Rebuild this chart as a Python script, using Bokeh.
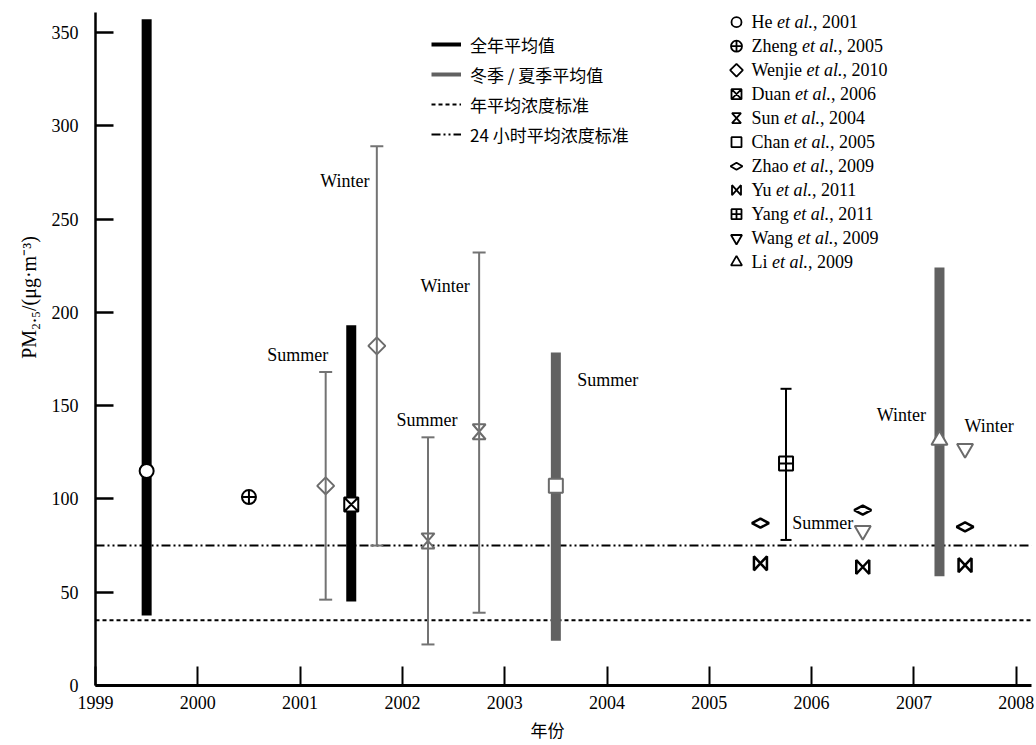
import glob
from bokeh.plotting import figure
from bokeh.models import (Range1d, Label, Legend, LegendItem, ColumnDataSource,
                          Whisker, TeeHead, FixedTicker)
from bokeh.embed import file_html
from bokeh.resources import INLINE

# ---------------- data ----------------
year_ticks = [1999, 2000, 2001, 2002, 2003, 2004, 2005, 2006, 2007, 2008]
pm_ticks = [0, 50, 100, 150, 200, 250, 300, 350]

annual_std = 35      # 年平均浓度标准
daily_std = 75       # 24 小时平均浓度标准

# 全年平均值 ranges (black thick bars)
annual_x = [1999.5, 2001.5]
annual_low = [37.5, 45]
annual_high = [357, 193]

# 冬季 / 夏季平均值 ranges (gray thick bars)
season_x = [2003.5, 2007.25]
season_low = [24, 58.5]
season_high = [178.5, 224]

# seasonal error bars (gray)
err_x = [2001.25, 2001.75, 2002.25, 2002.75]
err_low = [46, 75, 22, 39]
err_high = [168, 289, 133, 232]

# annual error bar (black, Yang et al.)
yang_err_x = [2005.75]
yang_err_low = [78]
yang_err_high = [159]

# study means
he_x, he_y = [1999.5], [115]
zheng_x, zheng_y = [2000.5], [101]
wenjie_x, wenjie_y = [2001.25, 2001.75], [107, 182]
duan_x, duan_y = [2001.5], [97]
sun_x, sun_y = [2002.25, 2002.75], [77.5, 136]
chan_x, chan_y = [2003.5], [107]
zhao_x, zhao_y = [2005.5, 2006.5, 2007.5], [87, 94, 85]
yu_x, yu_y = [2005.5, 2006.5, 2007.5], [65.5, 63.5, 64.5]
yang_x, yang_y = [2005.75], [119]
wang_x, wang_y = [2006.5, 2007.5], [83, 127]
li_x, li_y = [2007.25], [131.5]

# season annotations: text, anchor point (taken from the data above)
season_text = ["Summer", "Winter", "Summer", "Winter", "Summer", "Summer", "Winter", "Winter"]
season_anchor_x = [err_x[0], err_x[1], err_x[2], err_x[3], season_x[0], wang_x[0], li_x[0], wang_x[1]]
season_anchor_y = [err_high[0], err_high[1], err_high[2], err_high[3], season_high[0], wang_y[0], li_y[0], wang_y[1]]
# pixel offsets of the annotation text from its anchor (layout only)
season_dx = [-28, -32, -1, -34, 52, -40, -38, 24]
season_dy = [17, -35, 17, -33, -28, 8, 25, 23]

ref_names = ["He", "Zheng", "Wenjie", "Duan", "Sun", "Chan", "Zhao", "Yu", "Yang", "Wang", "Li"]
ref_years = ["2001", "2005", "2010", "2006", "2004", "2005", "2009", "2011", "2011", "2009", "2009"]

legend_labels = ["全年平均值", "冬季 / 夏季平均值", "年平均浓度标准", "24 小时平均浓度标准"]
x_title = "年份"
y_title = "PM₂.₅/(μg·m⁻³)"

# ---------------- layout / style ----------------
W, H = 1034, 743
PX_X, PX_Y = 102.3, 1.866          # pixels per year / per µg·m⁻³
AX_LEFT, AX_BOTTOM = 95, 58        # where the axes cross (pixels from left / bottom)
X_AXIS_END, Y_AXIS_END = 2008.15, 360.7
X_START = 1999 - AX_LEFT / PX_X
Y_START = 0 - AX_BOTTOM / PX_Y
X_END = X_START + W / PX_X
Y_END = Y_START + H / PX_Y

SERIF = "Liberation Serif"
CJK = "Noto Sans CJK SC"
GRAY_BAR = "#616161"
GRAY_ERR = "#737373"
GRAY_MK = "#6b6b6b"

p = figure(width=W, height=H, x_range=Range1d(X_START, X_END), y_range=Range1d(Y_START, Y_END),
           output_backend="svg", toolbar_location=None, min_border=0)
p.grid.visible = False
p.outline_line_color = None
p.background_fill_color = "white"

# axes crossing at (1999, 0)
p.xaxis.fixed_location = 0
p.yaxis.fixed_location = 1999
p.xaxis.bounds = (1999, X_AXIS_END)
p.yaxis.bounds = (0, Y_AXIS_END)
p.xaxis.ticker = FixedTicker(ticks=year_ticks)
p.yaxis.ticker = FixedTicker(ticks=pm_ticks)
for ax in (p.xaxis[0], p.yaxis[0]):
    ax.axis_line_color = "black"
    ax.major_tick_line_color = "black"
    ax.minor_tick_line_color = None
    ax.major_tick_out = 0
    ax.major_label_text_font = SERIF
    ax.major_label_text_font_size = "18px"
    ax.major_label_text_color = "black"
p.xaxis.major_tick_in = 19
p.yaxis.major_tick_in = 18
p.xaxis.axis_line_width = 3
p.yaxis.axis_line_width = 2.5
p.xaxis.major_tick_line_width = 2
p.yaxis.major_tick_line_width = 2.5
p.xaxis.major_label_standoff = 10
p.yaxis.major_label_standoff = 17

# axis titles
p.add_layout(Label(x=547, y=H - 729, x_units="screen", y_units="screen", text=x_title,
                   text_align="center", text_baseline="middle", text_font=CJK,
                   text_font_size="17px", text_color="black"))
p.add_layout(Label(x=28, y=H - 297, x_units="screen", y_units="screen", text=y_title,
                   angle=1.5707963, text_align="center", text_baseline="middle",
                   text_font=SERIF, text_font_size="20px", text_color="black"))

# standard lines (drawn from the y axis to the end of the x axis)
p.line(x=[1999, X_AXIS_END], y=[annual_std, annual_std], line_color="black", line_width=2,
       line_dash="4 3")
p.line(x=[1999, X_AXIS_END], y=[daily_std, daily_std], line_color="black", line_width=2,
       line_dash="9 3 2 3 2 3")

# error bars
def whisker(xs, lo, hi, color, cap):
    src = ColumnDataSource(dict(base=xs, lower=lo, upper=hi))
    return Whisker(source=src, base="base", lower="lower", upper="upper",
                   line_color=color, line_width=2, level="glyph",
                   upper_head=TeeHead(size=cap, line_color=color, line_width=2),
                   lower_head=TeeHead(size=cap, line_color=color, line_width=2))

p.add_layout(whisker(err_x, err_low, err_high, GRAY_ERR, 13))
p.add_layout(whisker(yang_err_x, yang_err_low, yang_err_high, "black", 11))

# thick range bars
p.segment(x0=annual_x, y0=annual_low, x1=annual_x, y1=annual_high,
          line_color="black", line_width=10, line_cap="butt")
p.segment(x0=season_x, y0=season_low, x1=season_x, y1=season_high,
          line_color=GRAY_BAR, line_width=10, line_cap="butt")

# custom marker shapes (pixel half-sizes turned into data offsets)
def shape(xs, ys, verts, sx, sy):
    return ([[x + vx / sx for vx, vy in verts] for x in xs],
            [[y + vy / sy for vx, vy in verts] for y in ys])

def hourglass(w, h):
    return [(-w, h), (w, h), (-w, -h), (w, -h)]

def bowtie(w, h):
    return [(-w, h), (-w, -h), (w, h), (w, -h)]

def flat_diamond(w, h):
    return [(-w, 0), (0, h), (w, 0), (0, -h)]

# data markers
mk = dict(fill_color="white", line_width=2)
p.scatter(he_x, he_y, marker="circle", size=14, line_color="black", **mk)
p.scatter(zheng_x, zheng_y, marker="circle_cross", size=14, line_color="black", **mk)
p.scatter(wenjie_x, wenjie_y, marker="square", angle=0.785398, size=12, line_color=GRAY_MK, **mk)
p.scatter(duan_x, duan_y, marker="square_x", size=14, line_color="black", **mk)
sx_, sy_ = shape(sun_x, sun_y, hourglass(6.5, 7.5), PX_X, PX_Y)
p.patches(sx_, sy_, line_color=GRAY_MK, **mk)
p.scatter(chan_x, chan_y, marker="square", size=14, line_color=GRAY_MK, **mk)
zx_, zy_ = shape(zhao_x, zhao_y, flat_diamond(8.5, 4.5), PX_X, PX_Y)
p.patches(zx_, zy_, line_color="black", fill_color="white", line_width=2.5)
yx_, yy_ = shape(yu_x, yu_y, bowtie(6.5, 7), PX_X, PX_Y)
p.patches(yx_, yy_, line_color="black", fill_color="white", line_width=2.5)
p.scatter(yang_x, yang_y, marker="square_cross", size=14, line_color="black", **mk)
p.scatter(wang_x, wang_y, marker="inverted_triangle", size=16, line_color=GRAY_MK, **mk)
p.scatter(li_x, li_y, marker="triangle", size=16, line_color=GRAY_MK, **mk)

# season annotations
for t, ax_, ay_, dx, dy in zip(season_text, season_anchor_x, season_anchor_y, season_dx, season_dy):
    p.add_layout(Label(x=ax_, y=ay_, x_offset=dx, y_offset=dy, text=t, text_align="center",
                       text_baseline="middle", text_font=SERIF, text_font_size="18px",
                       text_color="black"))

# ---------------- line legend ----------------
nan = float("nan")
r1 = p.line([nan, nan], [nan, nan], line_color="black", line_width=4)
r2 = p.line([nan, nan], [nan, nan], line_color=GRAY_BAR, line_width=4)
r3 = p.line([nan, nan], [nan, nan], line_color="black", line_width=2, line_dash="4 3")
r4 = p.line([nan, nan], [nan, nan], line_color="black", line_width=2, line_dash="9 3 2 3 2 3")
ROW_H, ROW_GAP = 25, 5
LEG_H = 4 * ROW_H + 3 * ROW_GAP
legend = Legend(items=[LegendItem(label=l, renderers=[r]) for l, r in zip(legend_labels, [r1, r2, r3, r4])],
                location=(431, H - 31.5 - LEG_H), glyph_width=30, glyph_height=20, spacing=ROW_GAP,
                padding=0, margin=0, label_standoff=9, border_line_color=None,
                background_fill_alpha=0, label_text_font=CJK, label_text_font_size="17px",
                label_text_color="black", label_height=20)
p.add_layout(legend)

# ---------------- marker legend (pixel coordinates of the canvas) ----------------
p.extra_x_ranges = {"px": Range1d(0, W)}
p.extra_y_ranges = {"px": Range1d(0, H)}

def _font_file(style):
    name = {"normal": "LiberationSerif-Regular.ttf", "italic": "LiberationSerif-Italic.ttf"}[style]
    for root in ("/usr/share/fonts", "/usr/local/share/fonts", "/usr/lib"):
        hits = glob.glob(f"{root}/**/{name}", recursive=True)
        if hits:
            return hits[0]
    return None

_TIMES = {" ": 250, ",": 250, ".": 250, "H": 722, "Z": 611, "W": 944, "D": 722, "S": 556,
          "C": 667, "Y": 722, "L": 611, "e": 444, "h": 500, "n": 500, "g": 500, "j": 278,
          "i": 278, "u": 500, "a": 444, "o": 500, "t": 278, "l": 278, "m": 778, "r": 333}

def text_w(s, size, style="normal"):
    try:
        from PIL import ImageFont
        return ImageFont.truetype(_font_file(style), size).getlength(s)
    except Exception:
        return sum(_TIMES.get(c, 500) for c in s) * size / 1000

LX, TX, ROW0, ROWH = 736, 751, 21.7, 24
row_y = [H - ROW0 - ROWH * i for i in range(len(ref_names))]
ls = dict(fill_color="white", line_color="black", line_width=1.8,
          x_range_name="px", y_range_name="px")
std_rows = [0, 1, 2, 3, 5, 8, 9, 10]
std_marks = ["circle", "circle_cross", "square", "square_x", "square", "square_cross",
             "inverted_triangle", "triangle"]
std_size = [10, 11, 9, 10, 10, 10, 11, 11]
std_angle = [0, 0, 0.785398, 0, 0, 0, 0, 0]
p.scatter(x=[LX] * len(std_rows), y=[row_y[i] for i in std_rows], marker=std_marks,
          size=std_size, angle=std_angle, **ls)
hx, hy = shape([LX], [row_y[4]], hourglass(4.5, 5), 1, 1)
p.patches(hx, hy, **ls)
dx_, dy_ = shape([LX], [row_y[6]], flat_diamond(6, 3.5), 1, 1)
p.patches(dx_, dy_, **ls)
bx, by = shape([LX], [row_y[7]], bowtie(4.5, 5), 1, 1)
p.patches(bx, by, **ls)

FS = 18
for name, yr, yy in zip(ref_names, ref_years, row_y):
    x1 = TX + text_w(name + " ", FS)
    x2 = x1 + text_w("et al.", FS, "italic")
    common = dict(y=yy, x_units="screen", y_units="screen", text_baseline="middle",
                  text_font=SERIF, text_font_size=f"{FS}px", text_color="black")
    p.add_layout(Label(x=TX, text=name, **common))
    p.add_layout(Label(x=x1, text="et al.", text_font_style="italic", **common))
    p.add_layout(Label(x=x2, text=", " + yr, **common))

open("out.html", "w").write(file_html(p, INLINE))
